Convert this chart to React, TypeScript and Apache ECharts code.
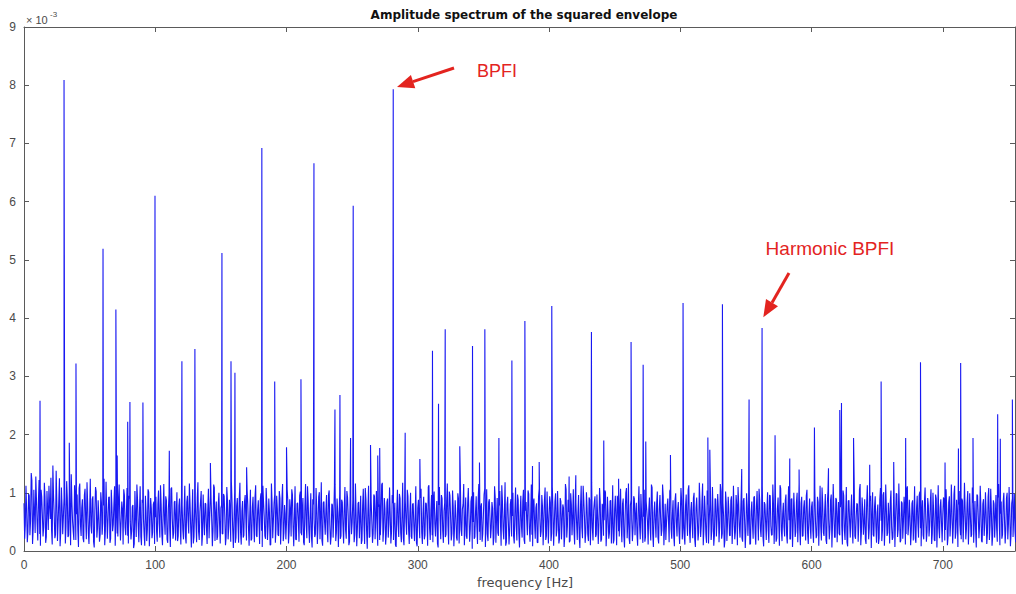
import React, { useEffect, useRef } from "react";
import * as echarts from "echarts";

// Noise floor of the squared-envelope spectrum at whole Hz (units: x10^-3)
const noise000 = [
  0.82,0.45,0.71,0.33,0.95,0.52,1.21,0.38,0.66,1.28,0.47,0.88,0.29,1.05,0.61,0.41,0.93,0.24,0.72,1.12,
  0.55,0.36,1.47,0.62,0.28,0.85,0.49,1.25,0.33,0.77,0.58,1.15,0.42,0.91,0.27,0.68,1.32,0.51,0.19,0.84,
  0.63,0.37,1.08,0.46,0.74,0.22,0.96,0.53,1.18,0.31,0.65,0.44,0.89,0.16,0.71,1.02,0.39,0.58,0.27,0.83,
  0.48,1.24,0.35,0.69,0.52,0.93,0.21,0.76,0.45,1.11,0.63,0.3,0.87,0.54,0.18,0.72,1.06,0.41,0.64,0.26,
  0.95,0.5,0.34,0.79,0.12,0.6,1.14,0.43,0.7,0.25,0.88,0.56,0.09,0.67,0.38,1.01,0.47,0.73,0.32,0.85,
];
const noise100 = [
  0.58,0.34,0.81,0.47,1.13,0.29,0.66,0.52,0.94,0.2,0.73,0.41,1.07,0.55,0.31,0.86,0.62,0.17,0.78,0.44,
  0.99,0.36,0.69,0.25,0.84,0.51,1.16,0.39,0.6,0.13,0.75,0.48,0.92,0.33,0.67,1.03,0.28,0.57,0.82,0.4,
  0.71,0.22,0.96,0.54,0.35,1.09,0.63,0.19,0.8,0.46,0.74,0.3,0.98,0.58,0.24,0.87,0.42,0.65,1.19,0.37,
  0.53,0.14,0.77,0.49,0.91,0.32,0.68,0.23,0.85,0.57,1.04,0.4,0.62,0.18,0.76,0.45,0.93,0.27,0.7,0.5,
  0.88,0.35,1.12,0.6,0.21,0.79,0.43,0.66,0.11,0.83,0.52,0.97,0.38,0.72,0.26,0.9,0.47,1.15,0.31,0.64,
];
const noise200 = [
  0.49,0.86,0.33,0.72,1.06,0.41,0.59,0.2,0.81,0.53,0.95,0.3,0.68,0.15,0.77,0.46,1.11,0.37,0.63,0.24,
  0.89,0.55,0.29,0.74,0.42,1.01,0.61,0.18,0.83,0.5,0.7,0.34,0.97,0.45,0.26,0.79,0.58,1.14,0.32,0.67,
  0.52,0.21,0.88,0.43,0.75,0.36,1.03,0.6,0.16,0.71,0.48,0.92,0.27,0.65,0.39,0.84,0.56,0.12,0.78,0.44,
  1.08,0.35,0.69,0.23,0.86,0.51,0.3,0.94,0.62,0.4,0.76,0.19,0.57,1.17,0.38,0.73,0.28,0.9,0.47,0.64,
  0.33,0.82,0.54,0.1,0.7,0.45,0.98,0.31,0.61,0.22,0.85,0.5,1.05,0.37,0.66,0.25,0.8,0.43,0.59,0.14,
];
const noise300 = [
  0.74,0.48,0.91,0.32,0.65,0.2,0.83,0.55,1.1,0.39,0.7,0.27,0.87,0.46,0.61,0.13,0.79,0.52,0.96,0.35,
  0.68,0.24,0.85,0.44,1.02,0.58,0.3,0.76,0.41,0.63,0.18,0.9,0.53,0.36,0.72,1.15,0.47,0.26,0.81,0.6,
  0.38,0.94,0.5,0.21,0.67,0.43,0.88,0.33,0.75,0.16,0.62,1.07,0.45,0.29,0.84,0.57,0.4,0.73,0.23,0.92,
  0.54,0.31,0.78,0.48,1.13,0.37,0.66,0.09,0.8,0.51,0.35,0.89,0.6,0.25,0.71,0.44,0.97,0.3,0.64,0.42,
  0.86,0.19,0.69,0.53,1.04,0.39,0.58,0.28,0.82,0.47,0.74,0.15,0.93,0.56,0.34,0.77,0.49,1.09,0.26,0.63,
];
const noise400 = [
  0.55,0.83,0.3,0.71,0.46,0.99,0.36,0.62,0.21,0.85,0.5,0.74,0.27,1.06,0.43,0.67,0.18,0.8,0.57,0.35,
  0.92,0.48,0.65,0.24,0.78,0.41,1.12,0.58,0.32,0.73,0.17,0.88,0.52,0.39,0.69,0.94,0.28,0.6,0.45,0.84,
  0.2,0.76,0.53,1.01,0.37,0.64,0.31,0.87,0.49,0.13,0.72,0.56,0.95,0.34,0.68,0.42,0.81,0.26,0.61,1.08,
  0.47,0.22,0.79,0.54,0.38,0.9,0.63,0.29,0.75,0.44,0.98,0.33,0.59,0.16,0.86,0.51,0.7,0.4,1.14,0.3,
  0.66,0.48,0.82,0.23,0.73,0.57,0.36,0.93,0.45,0.19,0.77,0.52,1.03,0.38,0.64,0.27,0.88,0.5,0.71,0.34,
];
const noise500 = [
  0.61,0.87,0.4,0.25,0.78,0.53,1.05,0.34,0.69,0.47,0.91,0.2,0.74,0.56,0.32,0.85,0.44,1.16,0.38,0.66,
  0.14,0.8,0.5,0.97,0.35,0.63,0.27,0.89,0.54,0.72,0.41,1.02,0.3,0.6,0.18,0.83,0.48,0.7,0.26,0.94,
  0.45,0.58,0.33,0.79,1.1,0.42,0.65,0.22,0.86,0.52,0.37,0.75,0.59,0.11,0.68,0.46,0.92,0.31,0.77,0.55,
  1.07,0.39,0.62,0.24,0.84,0.49,0.71,0.35,0.96,0.43,0.28,0.8,0.57,0.16,0.73,0.5,1.13,0.36,0.64,0.41,
  0.87,0.29,0.7,0.53,0.21,0.9,0.46,0.67,0.33,1.0,0.58,0.38,0.82,0.25,0.74,0.48,0.95,0.31,0.62,0.44,
];
const noise600 = [
  0.76,0.35,0.93,0.51,0.27,0.84,0.6,0.42,1.09,0.32,0.69,0.19,0.81,0.55,0.38,0.97,0.47,0.72,0.23,0.88,
  0.53,0.3,0.75,0.44,1.04,0.36,0.63,0.15,0.86,0.5,0.68,0.39,0.91,0.26,0.58,0.8,0.45,1.15,0.33,0.7,
  0.49,0.2,0.83,0.57,0.4,0.95,0.62,0.28,0.77,0.43,0.66,0.12,0.89,0.52,0.35,1.01,0.46,0.73,0.31,0.6,
  0.85,0.41,0.24,0.79,0.56,0.98,0.37,0.67,0.18,0.82,0.5,0.71,0.29,1.11,0.45,0.61,0.34,0.87,0.54,0.22,
  0.74,0.48,0.96,0.39,0.64,0.27,0.84,0.58,0.33,0.78,0.44,1.06,0.3,0.69,0.17,0.9,0.53,0.4,0.75,0.47,
];
const noise700 = [
  0.63,0.88,0.36,0.71,0.24,0.94,0.5,0.67,0.41,1.12,0.32,0.59,0.8,0.45,0.2,0.86,0.55,0.73,0.38,1.03,
  0.47,0.62,0.28,0.83,0.52,0.35,0.97,0.6,0.42,0.76,0.15,0.89,0.49,0.66,0.31,1.08,0.44,0.7,0.26,0.81,
  0.57,0.39,0.92,0.48,0.64,0.21,0.85,0.53,0.37,1.0,0.46,0.72,0.29,0.9,0.58,0.34,0.78,0.43,0.65,0.51,
];

// Noise floor at the half-Hz bins (units: x10^-3)
const half000 = [
  0.21,1.12,0.15,0.98,0.27,1.34,0.12,1.05,0.31,0.88,0.18,1.22,0.09,0.93,0.25,1.17,0.14,1.03,0.36,0.79,
  1.26,0.11,0.95,0.22,1.38,0.17,0.86,0.08,1.09,0.29,0.91,0.13,1.2,0.24,1.02,0.1,0.84,0.33,1.13,0.19,
  0.97,0.07,1.16,0.26,0.89,0.15,1.07,0.2,0.82,0.12,1.24,0.3,0.94,0.06,1.1,0.23,0.87,0.16,1.01,0.28,
  0.78,0.1,1.19,0.21,0.92,0.14,1.05,0.34,0.81,0.09,0.99,0.25,1.14,0.18,0.85,0.11,0.96,0.27,1.08,0.13,
  0.9,0.2,0.76,0.05,1.03,0.24,0.88,0.15,1.11,0.1,0.83,0.29,0.95,0.17,1.06,0.08,0.91,0.22,0.8,0.12,
];
const half100 = [
  0.93,0.16,1.04,0.23,0.8,0.1,1.15,0.28,0.87,0.14,0.98,0.07,1.09,0.21,0.84,0.18,1.01,0.26,0.9,0.11,
  0.78,0.2,1.12,0.13,0.95,0.3,0.82,0.06,1.06,0.24,0.89,0.15,1.18,0.19,0.86,0.09,0.97,0.27,0.81,0.12,
  1.07,0.22,0.92,0.08,1.14,0.17,0.85,0.25,1.0,0.13,0.79,0.29,0.94,0.1,1.1,0.2,0.88,0.16,0.83,0.05,
  1.02,0.23,0.91,0.14,1.17,0.11,0.86,0.27,0.96,0.18,0.8,0.09,1.05,0.21,0.93,0.15,1.13,0.24,0.87,0.12,
  0.99,0.07,0.84,0.26,1.08,0.19,0.9,0.1,1.16,0.22,0.82,0.14,0.95,0.28,1.03,0.11,0.88,0.17,0.79,0.2,
];
const half200 = [
  1.06,0.13,0.89,0.25,0.97,0.08,1.11,0.19,0.83,0.16,1.02,0.27,0.91,0.1,1.15,0.22,0.86,0.14,0.99,0.06,
  0.8,0.24,1.08,0.12,0.93,0.2,1.18,0.09,0.85,0.28,0.96,0.15,1.04,0.11,0.81,0.23,1.13,0.17,0.9,0.07,
  0.98,0.26,0.84,0.13,1.1,0.21,0.92,0.1,1.01,0.29,0.87,0.15,1.16,0.08,0.82,0.22,0.95,0.18,1.07,0.12,
  0.89,0.04,1.12,0.25,0.86,0.14,0.97,0.2,1.03,0.09,0.8,0.27,1.14,0.16,0.91,0.11,0.84,0.23,1.09,0.13,
  0.96,0.19,0.83,0.07,1.05,0.24,0.9,0.15,1.17,0.1,0.87,0.28,0.94,0.12,1.0,0.21,0.82,0.17,1.11,0.08,
];
const half300 = [
  0.88,0.22,1.07,0.12,0.93,0.27,0.81,0.09,1.13,0.19,0.96,0.15,1.02,0.25,0.86,0.06,1.1,0.2,0.9,0.14,
  0.83,0.28,1.16,0.11,0.95,0.18,1.04,0.08,0.87,0.23,0.99,0.13,1.12,0.26,0.8,0.1,0.92,0.21,1.08,0.16,
  0.85,0.04,1.01,0.24,0.94,0.12,1.15,0.19,0.82,0.29,0.97,0.07,1.06,0.17,0.89,0.22,0.84,0.1,1.11,0.14,
  0.91,0.26,1.03,0.09,0.86,0.2,1.18,0.15,0.93,0.11,0.8,0.25,1.0,0.13,1.09,0.18,0.88,0.06,0.95,0.23,
  1.05,0.12,0.84,0.27,0.98,0.16,1.14,0.08,0.9,0.21,0.82,0.14,1.07,0.24,0.96,0.1,0.87,0.19,1.02,0.13,
];
const half400 = [
  0.94,0.17,1.1,0.09,0.85,0.25,1.03,0.13,0.91,0.2,0.8,0.07,1.15,0.23,0.88,0.15,0.99,0.27,1.06,0.11,
  0.83,0.19,0.96,0.05,1.12,0.22,0.87,0.14,1.01,0.28,0.92,0.1,1.17,0.18,0.84,0.24,0.97,0.12,1.08,0.16,
  0.81,0.26,1.04,0.08,0.93,0.21,0.86,0.13,1.13,0.19,0.95,0.1,0.82,0.25,1.07,0.15,0.9,0.06,1.0,0.22,
  1.16,0.12,0.88,0.17,0.94,0.27,0.83,0.09,1.11,0.2,0.98,0.14,1.05,0.24,0.86,0.11,0.92,0.18,1.09,0.07,
  0.85,0.23,1.02,0.13,0.96,0.26,1.14,0.1,0.81,0.19,0.9,0.15,1.06,0.21,0.87,0.08,0.99,0.25,0.84,0.12,
];
const half500 = [
  1.08,0.2,0.89,0.11,0.97,0.26,1.13,0.14,0.84,0.22,1.0,0.07,0.92,0.18,1.17,0.24,0.86,0.1,0.95,0.28,
  1.04,0.13,0.81,0.19,1.1,0.09,0.9,0.25,0.98,0.15,1.15,0.21,0.83,0.06,1.02,0.17,0.93,0.27,0.87,0.12,
  1.12,0.2,0.96,0.1,0.82,0.23,1.06,0.16,0.91,0.05,0.99,0.26,1.18,0.13,0.85,0.21,0.94,0.11,1.03,0.18,
  0.88,0.24,1.09,0.08,0.8,0.19,1.01,0.14,0.95,0.27,1.14,0.12,0.86,0.22,0.92,0.09,1.07,0.17,0.83,0.25,
  0.97,0.13,1.11,0.2,0.89,0.07,1.0,0.24,0.84,0.15,1.16,0.1,0.93,0.26,0.87,0.18,1.05,0.12,0.9,0.21,
];
const half600 = [
  0.85,0.14,1.07,0.22,0.93,0.09,1.12,0.18,0.81,0.26,0.98,0.12,1.03,0.2,0.88,0.06,1.15,0.24,0.91,0.15,
  0.84,0.27,1.0,0.11,0.95,0.19,1.1,0.08,0.87,0.23,0.97,0.13,1.17,0.21,0.82,0.16,1.05,0.1,0.92,0.28,
  0.89,0.12,1.13,0.2,0.86,0.05,1.01,0.25,0.94,0.14,0.8,0.22,1.08,0.17,0.96,0.09,1.14,0.26,0.83,0.13,
  1.04,0.19,0.9,0.07,0.99,0.24,1.16,0.15,0.85,0.21,0.93,0.11,1.06,0.27,0.88,0.1,0.82,0.18,1.11,0.14,
  0.95,0.23,1.02,0.08,0.87,0.2,1.09,0.16,0.91,0.25,0.84,0.12,1.0,0.19,0.97,0.06,1.13,0.22,0.89,0.15,
];
const half700 = [
  0.92,0.18,1.06,0.1,0.84,0.25,1.14,0.13,0.97,0.21,0.88,0.07,1.03,0.27,0.9,0.15,1.17,0.2,0.83,0.11,
  0.99,0.24,1.09,0.14,0.86,0.06,0.95,0.22,1.12,0.17,0.81,0.26,1.01,0.12,0.93,0.19,1.07,0.09,0.87,0.23,
  0.96,0.16,1.15,0.1,0.85,0.28,1.0,0.13,0.91,0.2,1.1,0.08,0.82,0.24,0.98,0.15,1.04,0.19,0.89,0.12,
];

// Spectral lines (frequency in Hz, amplitude x10^-3)
const peakFreqs = [
  12.2,30.5,34.5,39.6,60.2,70,71,79,80.7,90.6,99.8,110.7,120.3,130.2,142,150.8,157.7,160.7,169.6,181.2,
  191,200,211,220.9,236.9,240.7,248.8,250.8,264,269.5,271,281.3,290.4,301.6,311.2,315.8,320.9,332,341.7,347,
  351.1,361.8,371.7,381.6,387.4,392.5,402.1,415.3,420.4,432.3,441.7,453,462.5,471.7,473.7,492.5,502.1,521,522.5,532.1,
  546.8,552.4,562.3,572.2,583.4,590.5,602.2,612.9,621.5,622.8,632,644.3,653,662.6,671.7,683,701.7,711.9,713.6,723,
  741.8,743.8,753,
];
const peakValues = [
  2.58,8.09,1.86,3.22,5.19,4.15,1.64,2.22,2.56,2.55,6.1,1.72,3.26,3.47,1.51,5.12,3.26,3.06,1.44,6.92,
  2.91,1.78,2.95,6.66,2.43,2.68,1.94,5.93,1.82,1.64,1.77,7.93,2.03,1.58,3.44,2.53,3.81,1.8,3.52,1.52,
  3.81,1.94,3.27,3.95,1.46,1.53,4.21,1.28,1.3,3.76,1.9,1.24,3.59,3.2,1.88,1.65,4.26,1.95,1.74,4.24,
  1.41,2.6,3.83,1.99,1.59,1.4,2.12,1.42,2.42,2.54,1.94,1.48,2.91,1.53,1.94,3.24,1.52,1.76,3.23,1.94,
  2.35,1.93,2.6,
];

const xMin = 0;
const xMax = 755;
const yTicks = [0, 1, 2, 3, 4, 5, 6, 7, 8, 9];

const titleText = "Amplitude spectrum of the squared envelope";
const xLabelText = "frequency [Hz]";
const annoMain = "BPFI";
const annoHarm = "Harmonic BPFI";

export default function App() {
  const ref = useRef<HTMLDivElement>(null);

  useEffect(() => {
    if (!ref.current) return;
    const chart = echarts.init(ref.current, null, { renderer: "svg" });
    const noise = [
      ...noise000, ...noise100, ...noise200, ...noise300,
      ...noise400, ...noise500, ...noise600, ...noise700,
    ];
    const half = [
      ...half000, ...half100, ...half200, ...half300,
      ...half400, ...half500, ...half600, ...half700,
    ];
    const points: number[][] = noise
      .map((v, i) => [i, v])
      .concat(half.map((v, i) => [i + 0.5, v]))
      .concat(peakFreqs.map((f, k) => [f, peakValues[k]]))
      .sort((a, b) => a[0] - b[0]);

    const font = "'Liberation Sans', Arial, Helvetica, sans-serif";
    const wideFont = "'DejaVu Sans', 'Liberation Sans', Arial, sans-serif";
    const axisColor = "#5a5a5a";
    const labelColor = "#4a4a4a";
    const red = "#e3241f";

    const axisCommon = {
      type: "value",
      axisLine: { show: true, onZero: false, lineStyle: { color: axisColor, width: 1 } },
      axisTick: { show: true, inside: true, length: 5, lineStyle: { color: axisColor } },
      splitLine: { show: false },
    };

    chart.setOption({
      animation: false,
      backgroundColor: "#ffffff",
      grid: {
        left: 24,
        top: 27,
        right: 1,
        bottom: 43,
        containLabel: false,
        outerBoundsMode: "none",
      },
      xAxis: [
        {
          ...axisCommon,
          min: xMin,
          max: xMax,
          interval: 100,
          axisLabel: {
            color: labelColor,
            fontSize: 12,
            fontFamily: font,
            margin: 8,
            showMaxLabel: false,
          },
        },
        {
          ...axisCommon,
          position: "top",
          min: xMin,
          max: xMax,
          interval: 100,
          axisLabel: { show: false },
        },
      ],
      yAxis: [
        {
          ...axisCommon,
          min: yTicks[0],
          max: yTicks[yTicks.length - 1],
          interval: 1,
          axisLabel: { color: labelColor, fontSize: 12, fontFamily: font, margin: 8 },
        },
        {
          ...axisCommon,
          position: "right",
          min: yTicks[0],
          max: yTicks[yTicks.length - 1],
          interval: 1,
          axisLabel: { show: false },
        },
      ],
      series: [
        {
          type: "line",
          xAxisIndex: 0,
          yAxisIndex: 0,
          data: points,
          showSymbol: false,
          symbol: "none",
          clip: true,
          lineStyle: { color: "#1818f2", width: 1.1 },
          emphasis: { disabled: true },
        },
      ],
      graphic: [
        {
          type: "text",
          x: 524,
          y: 15,
          style: {
            text: titleText,
            font: `bold 12px ${wideFont}`,
            fill: "#111",
            align: "center",
            verticalAlign: "middle",
          },
        },
        {
          type: "text",
          x: 525,
          y: 582,
          style: {
            text: xLabelText,
            font: `13px ${wideFont}`,
            fill: labelColor,
            align: "center",
            verticalAlign: "middle",
          },
        },
        {
          type: "text",
          x: 26,
          y: 20,
          style: {
            text: "\u00d7 10",
            font: `11px ${font}`,
            fill: labelColor,
            align: "left",
            verticalAlign: "middle",
          },
        },
        {
          type: "text",
          x: 50,
          y: 14,
          style: {
            text: "-3",
            font: `8px ${font}`,
            fill: labelColor,
            align: "left",
            verticalAlign: "middle",
          },
        },
        {
          type: "text",
          x: 497,
          y: 71,
          style: {
            text: annoMain,
            font: `18px ${font}`,
            fill: red,
            align: "center",
            verticalAlign: "middle",
          },
        },
        {
          type: "line",
          shape: { x1: 454, y1: 68, x2: 413, y2: 81.6 },
          style: { stroke: red, lineWidth: 3 },
        },
        {
          type: "polygon",
          shape: { points: [[397, 87], [415.3, 88.2], [410.9, 75]] },
          style: { fill: red },
        },
        {
          type: "text",
          x: 830,
          y: 248,
          style: {
            text: annoHarm,
            font: `19px ${font}`,
            fill: red,
            align: "center",
            verticalAlign: "middle",
          },
        },
        {
          type: "line",
          shape: { x1: 789, y1: 273, x2: 772, y2: 302.7 },
          style: { stroke: red, lineWidth: 3 },
        },
        {
          type: "polygon",
          shape: { points: [[763.3, 317.3], [778, 306.3], [766, 299.1]] },
          style: { fill: red },
        },
      ],
    });
    return () => chart.dispose();
  }, []);

  return (
    <div
      ref={ref}
      style={{ position: "fixed", left: 0, top: 0, width: 1016, height: 594, background: "#fff" }}
    />
  );
}
